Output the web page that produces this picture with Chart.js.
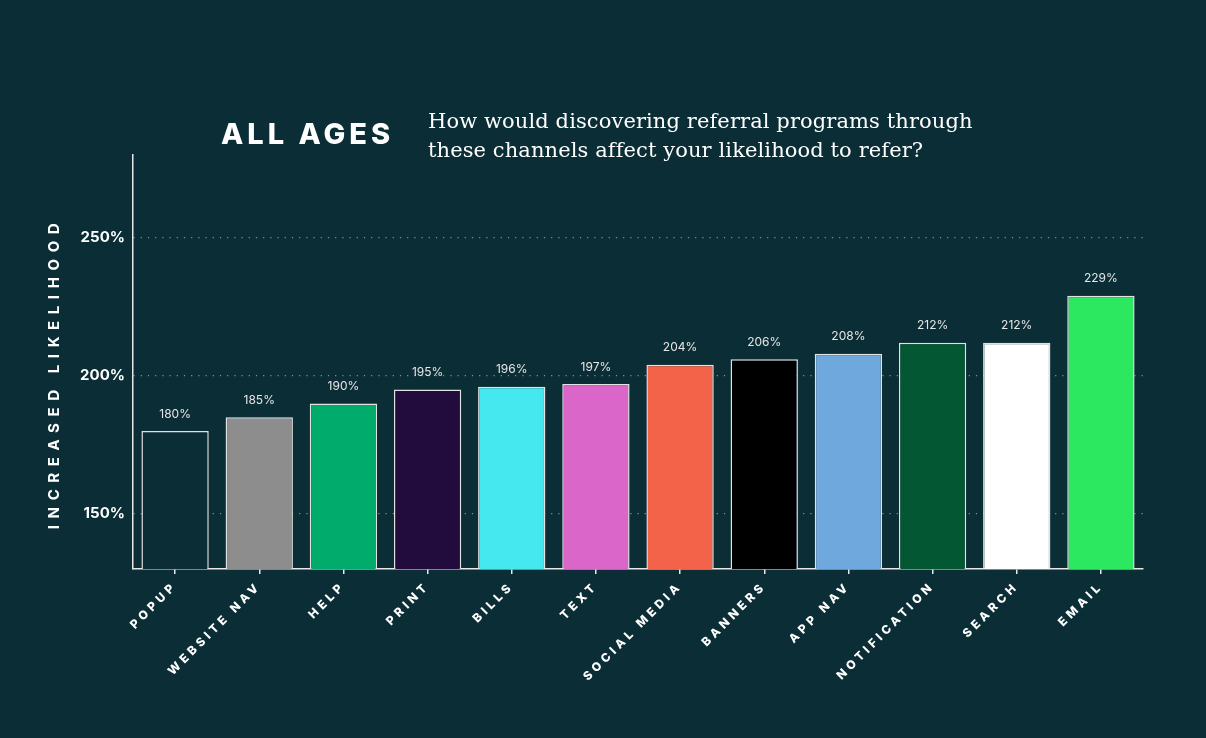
<!DOCTYPE html>
<html lang="en">
  <head>
    <meta charset="UTF-8" />
    <title>All ages - referral channels</title>
    <script src="https://cdn.jsdelivr.net/npm/chart.js"></script>
    <style>
      html, body { margin: 0; padding: 0; background: #0b2d36; }
      .wrap { position: relative; width: 1206px; height: 738px; }
      .ages {
        position: absolute; left: 221px; top: 116px;
        font-family: Inter, sans-serif; font-weight: 800; font-size: 29px;
        letter-spacing: 4px; color: #fff;
      }
      .question {
        position: absolute; left: 428px; top: 107px;
        font-family: "DejaVu Serif", serif; font-size: 21px; line-height: 29px;
        letter-spacing: 0.1px; color: #fff;
      }
    </style>
  </head>
  <body>
    <div class="wrap">
      <canvas id="chart" width="1206" height="738"></canvas>
      <div class="ages">ALL AGES</div>
      <div class="question">How would discovering referral programs through<br />these channels affect your likelihood to refer?</div>
    </div>

    <script>
      // data
      const channels = ["POPUP", "WEBSITE NAV", "HELP", "PRINT", "BILLS", "TEXT", "SOCIAL MEDIA", "BANNERS", "APP NAV", "NOTIFICATION", "SEARCH", "EMAIL"];
      const likelihood = [180, 185, 190, 195, 196, 197, 204, 206, 208, 212, 212, 229];
      const barColors = ["#0b2d36", "#8d8d8d", "#00ab6b", "#220b3d", "#46e8f0", "#d966c8", "#f2634a", "#000000", "#6ea8dc", "#035733", "#ffffff", "#2ce860"];
      const yTicks = [150, 200, 250];
      const yTitle = "INCREASED LIKELIHOOD";

      // letter-spaced x labels, reset before bars
      const spacing = {
        id: "spacing",
        beforeDraw(chart) { chart.ctx.letterSpacing = "3.8px"; },
        beforeDatasetsDraw(chart) { chart.ctx.letterSpacing = "0px"; },
      };

      const extras = {
        id: "extras",
        afterDatasetsDraw(chart) {
          const ctx = chart.ctx;
          ctx.save();
          ctx.letterSpacing = "0px";
          ctx.font = "12px Inter, sans-serif";
          ctx.fillStyle = "#e6e6e6";
          ctx.textAlign = "center";
          ctx.textBaseline = "bottom";
          chart.getDatasetMeta(0).data.forEach((bar, i) => {
            ctx.fillText(likelihood[i] + "%", bar.x, bar.y - 11);
          });
          ctx.restore();
        },
        afterDraw(chart) {
          // rotated axis title
          const ctx = chart.ctx;
          const a = chart.chartArea;
          ctx.save();
          ctx.letterSpacing = "6.6px";
          ctx.font = "bold 15px Inter, sans-serif";
          ctx.fillStyle = "#ffffff";
          ctx.textAlign = "center";
          ctx.textBaseline = "middle";
          ctx.translate(54, (a.top + a.bottom) / 2 + 11);
          ctx.rotate(-Math.PI / 2);
          ctx.fillText(yTitle, 0, 0);
          ctx.restore();
        },
      };

      new Chart(document.getElementById("chart"), {
        type: "bar",
        data: {
          labels: channels,
          datasets: [
            {
              data: likelihood,
              backgroundColor: barColors,
              borderColor: "#e2e2e2",
              borderWidth: 1.5,
              barPercentage: 0.8,
              categoryPercentage: 1,
            },
          ],
        },
        options: {
          responsive: false,
          animation: false,
          layout: { padding: { top: 155, right: 63, left: 0, bottom: 0 } },
          plugins: { legend: { display: false }, tooltip: { enabled: false } },
          scales: {
            x: {
              afterFit(scale) { scale.height = 169; },
              grid: { offset: false, drawOnChartArea: false, tickLength: 5, color: "#e8e8e8", lineWidth: 1.5 },
              border: { color: "#e8e8e8", width: 1.5 },
              ticks: {
                color: "#ffffff",
                maxRotation: 45,
                minRotation: 45,
                padding: 5,
                font: { family: "Inter, sans-serif", weight: "800", size: 12 },
              },
            },
            y: {
              min: 130,
              max: 280,
              afterFit(scale) { scale.width = 133; },
              afterBuildTicks(scale) { scale.ticks = yTicks.map((v) => ({ value: v })); },
              grid: {
                drawTicks: false,
                color: "rgba(200,215,215,0.6)",
                lineWidth: 1.2,
              },
              border: { color: "#e8e8e8", width: 1.5, dash: [1.2, 6] },
              ticks: {
                z: 1,
                padding: 8,
                color: "#ffffff",
                font: { family: "Inter, sans-serif", weight: "bold", size: 15 },
                callback: (v) => v + "%",
              },
            },
          },
        },
        plugins: [spacing, extras],
      });
    </script>
  </body>
</html>
